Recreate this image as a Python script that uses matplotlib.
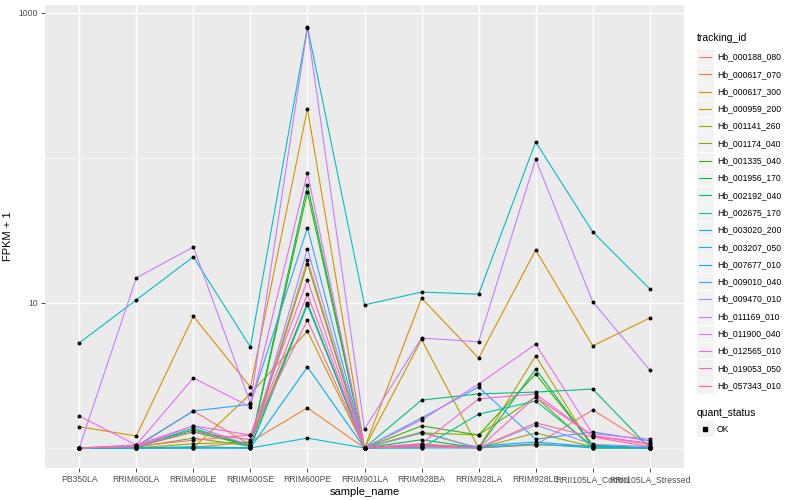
import numpy as np
import matplotlib
matplotlib.use("Agg")
import matplotlib.pyplot as plt
from matplotlib.lines import Line2D
from matplotlib.patches import Rectangle

plt.rcParams['font.family'] = ['Liberation Sans', 'DejaVu Sans']

samples = ["PB350LA", "RRIM600LA", "RRIM600LE", "RRIM600SE", "RRIM600PE", "RRIM901LA",
           "RRIM928BA", "RRIM928LA", "RRIM928LE", "RRII105LA_Control", "RRII105LA_Stressed"]

tracking_ids = ["Hb_000188_080", "Hb_000617_070", "Hb_000617_300", "Hb_000959_200",
                "Hb_001141_260", "Hb_001174_040", "Hb_001335_040", "Hb_001956_170",
                "Hb_002192_040", "Hb_002675_170", "Hb_003020_200", "Hb_003207_050",
                "Hb_007677_010", "Hb_009010_040", "Hb_009470_010", "Hb_011169_010",
                "Hb_011900_040", "Hb_012565_010", "Hb_019053_050", "Hb_057343_010"]

# FPKM per gene, one value per sample
fpkm_000188_080 = [0, 0.02, 0.80, 0.05, 18.8, 0, 0.07, 0, 0.05, 0.83, 0.04]
fpkm_000617_070 = [0, 0, 0.01, 0.10, 0.89, 0, 0.04, 0.02, 0.05, 0.03, 0]
fpkm_000617_300 = [0.40, 0.21, 7.1, 1.63, 217, 0, 9.8, 3.17, 22.2, 4.06, 6.88]
fpkm_000959_200 = [0, 0, 0, 1.36, 5.4, 0, 4.6, 0, 3.31, 0, 0]
fpkm_001141_260 = [0, 0, 0.07, 0.10, 8.85, 0, 0.29, 0, 0.27, 0.02, 0]
fpkm_001174_040 = [0, 0.01, 0.17, 0.03, 17.6, 0, 0.27, 0.23, 1.25, 0, 0]
fpkm_001335_040 = [0, 0.02, 0.29, 0.04, 57, 0, 0.42, 0.23, 2.24, 0.05, 0]
fpkm_001956_170 = [0, 0.03, 0.33, 0.05, 64, 0, 0.14, 0, 2.5, 0.03, 0]
fpkm_002192_040 = [0, 0.01, 0.37, 0.02, 9.0, 0, 1.14, 1.36, 1.43, 1.55, 0]
fpkm_002675_170 = [0, 0, 0.02, 0, 8.7, 0, 0, 0.71, 1.11, 0.03, 0]
fpkm_003020_200 = [4.3, 9.5, 19.8, 3.98, 799, 8.7, 10.9, 10.5, 128, 29.9, 11.5]
fpkm_003207_050 = [0, 0, 0, 0, 0.17, 0, 0, 0, 0.07, 0, 0]
fpkm_007677_010 = [0, 0, 0, 0, 2.62, 0, 0.02, 0.03, 0.10, 0.02, 0]
fpkm_009010_040 = [0, 0.03, 0.80, 1.0, 32, 0, 0.61, 1.63, 0.15, 0.29, 0.12]
fpkm_009470_010 = [0, 0.02, 0.42, 0.04, 22.6, 0, 0.27, 0, 0.44, 0.06, 0.02]
fpkm_011169_010 = [0, 13.9, 23.3, 1.04, 789, 0.35, 4.73, 4.4, 97, 9.2, 2.45]
fpkm_011900_040 = [0, 0.05, 2.04, 0.92, 77.8, 0, 0.56, 1.76, 4.2, 0.25, 0.15]
fpkm_012565_010 = [0.66, 0.05, 0.42, 0.23, 13.4, 0, 0.07, 1.18, 1.36, 0.21, 0.08]
fpkm_019053_050 = [0, 0.04, 0.29, 0.14, 10.5, 0, 0.05, 0, 1.25, 0.21, 0.06]
fpkm_057343_010 = [0, 0.03, 0.13, 0.23, 6.6, 0, 0.02, 0, 0.49, 0.19, 0.02]

series = [fpkm_000188_080, fpkm_000617_070, fpkm_000617_300, fpkm_000959_200,
          fpkm_001141_260, fpkm_001174_040, fpkm_001335_040, fpkm_001956_170,
          fpkm_002192_040, fpkm_002675_170, fpkm_003020_200, fpkm_003207_050,
          fpkm_007677_010, fpkm_009010_040, fpkm_009470_010, fpkm_011169_010,
          fpkm_011900_040, fpkm_012565_010, fpkm_019053_050, fpkm_057343_010]

# ggplot default hue palette, 20 levels
colors = ["#F8766D", "#EA8331", "#D89000", "#C09B00", "#A3A500", "#7CAE00", "#39B600",
          "#00BB4E", "#00BF7D", "#00C1A3", "#00BFC4", "#00BAE0", "#00B0F6", "#35A2FF",
          "#9590FF", "#C77CFF", "#E76BF3", "#FA62DB", "#FF62BC", "#FF6C90"]

W, H = 800, 500
fig = plt.figure(figsize=(8, 5), dpi=100)
ax = fig.add_axes([45 / W, 1 - 468 / H, (684 - 45) / W, (468 - 5) / H])
ax.set_facecolor("#EBEBEB")
for s in ax.spines.values():
    s.set_visible(False)

x = np.arange(len(samples))
for vals, c in zip(series, colors):
    ax.plot(x, np.array(vals) + 1, color=c, lw=0.8, zorder=3)
for vals in series:
    ax.scatter(x, np.array(vals) + 1, s=8, color="black", zorder=4, linewidths=0)

ax.set_yscale("log")
ax.set_ylim(10 ** -0.138, 10 ** 3.055)
ax.set_xlim(-0.6, len(samples) - 1 + 0.6)

ax.set_yticks([10, 1000])
ax.set_yticklabels(["10", "1000"])
ax.set_yticks([1, 100], minor=True)
ax.yaxis.set_minor_formatter(matplotlib.ticker.NullFormatter())
ax.set_xticks(x)
ax.set_xticklabels(samples)

ax.grid(which="major", color="white", lw=1.0)
ax.grid(which="minor", axis="y", color="white", lw=0.5)
ax.set_axisbelow(True)
ax.tick_params(which="major", length=3, width=0.6, color="#333333",
               labelsize=6.2, labelcolor="#4D4D4D", pad=2)
ax.tick_params(which="minor", length=0)

ax.set_xlabel("sample_name", fontsize=8, labelpad=2)
ax.set_ylabel("FPKM + 1", fontsize=8, labelpad=4)

# legend: tracking_id
fig.text(697 / W, 1 - 38 / H, "tracking_id", fontsize=7.5, va="center", ha="left")
for i, (name, c) in enumerate(zip(tracking_ids, colors)):
    yc = 57 + i * 17.3
    fig.add_artist(Rectangle((697 / W, 1 - (yc + 8.3) / H), 16.5 / W, 16.6 / H,
                             transform=fig.transFigure, facecolor="#F2F2F2", edgecolor="none"))
    fig.add_artist(Line2D([699 / W, 711 / W], [1 - yc / H, 1 - yc / H],
                          transform=fig.transFigure, color=c, lw=0.8))
    fig.text(717 / W, 1 - yc / H, name, fontsize=6.2, va="center", ha="left")

# legend: quant_status
fig.text(697 / W, 1 - 413 / H, "quant_status", fontsize=7.5, va="center", ha="left")
fig.add_artist(Rectangle((697 / W, 1 - (429 + 8.3) / H), 16.5 / W, 16.6 / H,
                         transform=fig.transFigure, facecolor="#F2F2F2", edgecolor="none"))
fig.add_artist(Line2D([705 / W], [1 - 429 / H], transform=fig.transFigure,
                      marker="s", markersize=2.4, color="black", lw=0))
fig.text(717 / W, 1 - 429 / H, "OK", fontsize=6.2, va="center", ha="left")

fig.savefig("out.png", dpi=100)
